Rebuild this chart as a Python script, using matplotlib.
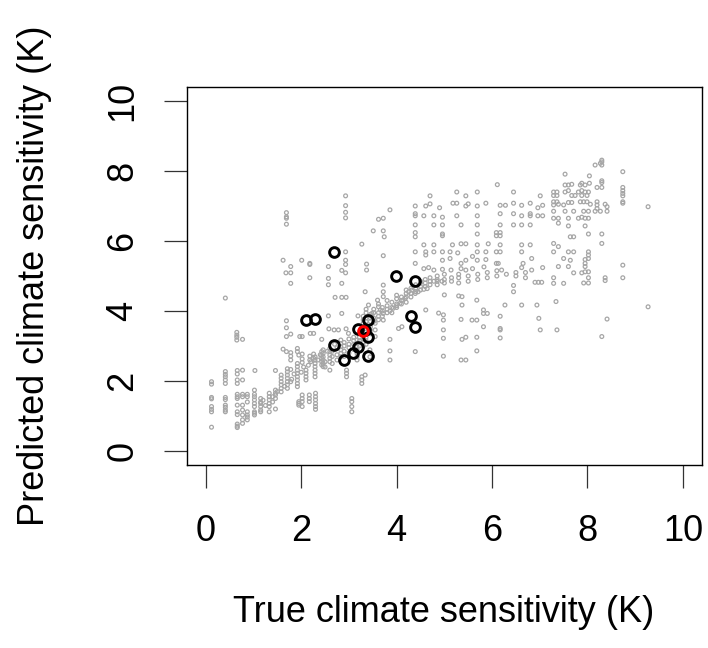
import matplotlib
matplotlib.use("Agg")
import matplotlib.pyplot as plt

plt.rcParams['font.family'] = ['Liberation Sans', 'DejaVu Sans']

# ---- data ----
# gray points: (true, predicted)
gray_low = [
    (0.12, 1.98), (0.12, 1.91), (0.12, 1.53), (0.12, 1.49), (0.12, 1.27), (0.12, 1.19), (0.12, 1.12), (0.12, 0.68),
    (0.41, 2.27), (0.41, 2.19), (0.41, 2.12), (0.41, 2.03), (0.41, 1.93), (0.41, 1.53), (0.41, 1.47), (0.41, 1.31),
    (0.41, 1.25), (0.41, 1.17), (0.41, 1.12), (0.41, 4.37),
    (0.66, 2.30), (0.66, 2.20), (0.66, 2.03), (0.66, 1.93), (0.66, 1.62), (0.66, 1.55), (0.66, 1.50), (0.66, 1.31),
    (0.66, 1.12), (0.66, 1.04), (0.66, 0.77), (0.66, 0.71), (0.66, 0.67),
    (0.65, 3.39), (0.65, 3.31), (0.65, 3.25), (0.65, 3.17), (0.77, 3.19),
    (0.77, 2.31), (0.77, 2.03), (0.77, 1.62), (0.77, 1.55), (0.77, 1.31), (0.77, 1.17), (0.77, 1.03), (0.77, 0.89), (0.77, 0.79),
    (0.87, 1.62), (0.87, 1.55), (0.87, 1.40), (0.87, 1.12), (0.87, 1.03), (0.87, 0.97), (0.87, 0.89),
    (1.02, 1.74), (1.02, 1.62), (1.02, 1.55), (1.02, 1.46), (1.02, 1.36), (1.02, 1.27), (1.02, 1.12), (1.02, 1.08), (1.02, 1.03), (1.03, 2.30),
    (1.15, 1.50), (1.15, 1.40), (1.15, 1.36), (1.15, 1.27), (1.15, 1.17), (1.15, 1.12),
    (1.33, 1.65), (1.33, 1.55), (1.33, 1.46), (1.33, 1.36), (1.33, 1.27), (1.33, 1.12),
    (1.46, 2.30), (1.46, 1.74), (1.46, 1.65), (1.46, 1.60), (1.46, 1.50), (1.46, 1.20),
    (1.58, 2.17), (1.58, 2.08), (1.58, 1.98), (1.58, 1.89), (1.58, 1.79), (1.58, 1.69),
    (1.71, 2.35), (1.71, 2.26), (1.71, 2.17), (1.71, 2.08), (1.71, 1.98), (1.71, 1.89), (1.71, 1.79),
    (1.78, 2.33), (1.78, 1.98),
    (1.92, 2.50), (1.92, 2.41), (1.92, 2.31), (1.92, 2.22), (1.92, 2.12), (1.92, 2.03), (1.92, 1.93), (1.92, 1.84),
    (2.02, 1.60), (2.02, 1.50), (2.02, 1.41), (2.02, 1.27), (1.95, 1.41), (1.95, 1.36), (1.95, 1.31),
    (2.10, 2.31), (2.10, 2.22), (2.10, 2.12), (2.10, 2.03), (2.17, 1.60), (2.17, 1.50), (2.17, 1.41),
    (2.29, 2.69), (2.29, 2.60), (2.29, 2.50), (2.29, 2.41), (2.29, 2.31), (2.29, 2.22), (2.29, 2.12),
    (2.30, 1.65), (2.30, 1.55), (2.30, 1.46), (2.30, 1.36), (2.30, 1.27), (2.30, 1.19),
    (2.46, 2.89), (2.46, 2.79), (2.46, 2.69), (2.46, 2.60), (2.46, 2.50), (2.46, 2.41),
    (2.60, 2.93), (2.60, 2.84), (2.60, 2.74), (2.60, 2.65), (2.60, 2.55), (2.60, 2.31),
    (2.83, 3.17), (2.83, 3.07), (2.83, 2.98), (2.83, 2.89), (2.83, 2.79), (2.83, 2.69),
    (2.95, 2.31), (2.95, 2.22), (2.95, 2.12),
    (3.06, 1.50), (3.06, 1.41), (3.06, 1.27), (3.06, 1.12),
    (3.17, 3.17), (3.17, 3.07), (3.17, 2.98), (3.17, 2.89), (3.17, 2.79), (3.17, 2.69), (3.17, 2.60),
    (3.27, 2.12), (3.27, 2.03), (3.27, 1.93),
]
gray_band = [
    (2.50, 2.40), (2.50, 2.55), (2.65, 2.50), (2.65, 2.70), (2.65, 2.85), (2.75, 2.60), (2.75, 2.75), (2.75, 2.95),
    (2.90, 2.70), (2.90, 2.85), (2.90, 3.00), (2.90, 3.10), (3.00, 2.80), (3.00, 2.95), (3.00, 3.05), (3.00, 3.20),
    (3.10, 2.90), (3.10, 3.05), (3.10, 3.15), (3.10, 3.25), (3.22, 3.00), (3.22, 3.15), (3.22, 3.25), (3.22, 3.35),
    (3.30, 3.00), (3.30, 3.10), (3.30, 3.20), (3.30, 3.30), (3.30, 3.55), (3.30, 3.65), (3.30, 3.75), (3.30, 3.85),
    (3.36, 3.05), (3.36, 3.15), (3.36, 3.25), (3.36, 3.40), (3.36, 3.60), (3.36, 3.70), (3.36, 3.80), (3.36, 3.95),
    (3.36, 4.05), (3.45, 3.35), (3.45, 3.45), (3.45, 3.55), (3.45, 3.70), (3.45, 3.80), (3.45, 3.90),
    (3.52, 3.70), (3.52, 3.80), (3.52, 3.95), (3.52, 4.05), (3.62, 3.75), (3.62, 3.85), (3.62, 3.95), (3.62, 4.20),
    (3.70, 3.85), (3.70, 4.00), (3.70, 4.10), (3.80, 3.95), (3.80, 4.05), (3.80, 4.15), (3.80, 4.30),
    (3.90, 3.95), (3.90, 4.10), (3.90, 4.25), (4.00, 4.10), (4.00, 4.20), (4.00, 4.35), (4.00, 4.45),
    (4.10, 4.20), (4.10, 4.30), (4.10, 4.40), (4.20, 4.25), (4.20, 4.40), (4.20, 4.50), (4.20, 4.60),
    (4.30, 4.40), (4.30, 4.50), (4.30, 4.65), (4.40, 4.55), (4.40, 4.65), (4.40, 4.75),
    (4.50, 4.60), (4.50, 4.70), (4.50, 4.80), (4.60, 4.70), (4.60, 4.80), (4.60, 4.90),
    (4.70, 4.75), (4.70, 4.85), (4.70, 4.95), (4.85, 4.75), (4.85, 4.90), (4.85, 5.00),
    (5.00, 4.80), (5.00, 4.90), (5.00, 5.05), (5.15, 4.85), (5.15, 4.95), (5.30, 4.80), (5.30, 4.95), (5.30, 5.05),
    (5.50, 4.85), (5.50, 5.00), (5.70, 4.90), (5.70, 5.05), (5.90, 4.95), (5.90, 5.10), (6.10, 5.00), (6.10, 5.15),
    (6.30, 5.05), (6.50, 5.00), (6.50, 5.10), (6.70, 4.95), (6.70, 5.10),
    (1.20, 1.45), (1.25, 1.30), (1.40, 1.55), (1.40, 1.40), (1.50, 1.70), (1.65, 1.85), (1.80, 2.05), (1.85, 2.20),
    (2.00, 2.25), (2.05, 2.40), (2.15, 2.45), (2.20, 2.55), (2.35, 2.60), (2.40, 2.75), (2.55, 2.85), (2.70, 3.05),
]
gray_mid = [
    (1.69, 6.81), (1.69, 6.69), (1.69, 6.65), (1.69, 6.48),
    (2.93, 7.29), (2.93, 7.01), (2.93, 6.82), (2.93, 6.66),
    (3.27, 5.91), (2.93, 5.69), (1.62, 5.45), (2.01, 5.45), (2.18, 5.36), (2.18, 5.33), (1.78, 5.27), (2.57, 5.27),
    (2.93, 5.45), (2.93, 5.33), (1.68, 5.09), (1.78, 5.09), (2.85, 5.16), (2.93, 5.09), (2.18, 4.95), (2.57, 4.93),
    (1.78, 4.79), (2.57, 4.75), (2.85, 4.79), (2.71, 4.39), (2.85, 4.39), (2.94, 4.39), (2.85, 3.93), (2.57, 3.86),
    (3.19, 3.86), (1.69, 3.72), (1.69, 3.52), (1.78, 3.34), (1.97, 3.27), (2.02, 3.27), (2.19, 3.36), (2.26, 3.36),
    (1.69, 3.27), (2.58, 3.49), (2.69, 3.46), (2.78, 3.46), (2.94, 3.49), (2.99, 3.36), (2.43, 3.19),
    (1.62, 2.91), (1.69, 2.84), (1.78, 2.81), (1.78, 2.71), (1.78, 2.60), (1.92, 2.93), (1.92, 2.84), (1.95, 2.74),
    (2.02, 2.77), (2.02, 2.63), (2.02, 2.53), (2.18, 2.71), (2.18, 2.60), (2.26, 2.77), (2.26, 2.65),
    (2.43, 2.84), (2.43, 2.74), (2.43, 2.65), (2.43, 2.55), (2.43, 2.46),
    (3.34, 4.55), (3.41, 4.17), (3.48, 3.93), (3.48, 3.84), (3.55, 3.65), (3.55, 3.46), (3.55, 3.27),
    (3.44, 2.89), (3.44, 2.69), (3.34, 2.17), (3.60, 4.31), (3.62, 4.12), (3.66, 4.03), (3.72, 3.93), (3.72, 3.74),
    (3.72, 4.74), (3.72, 4.55), (3.72, 4.41), (3.86, 4.00), (3.93, 4.08), (4.00, 4.15), (4.07, 4.22), (4.13, 4.31),
    (3.86, 3.19), (3.86, 2.86), (3.86, 2.60), (4.04, 3.50), (4.11, 3.55),
    (4.18, 4.36), (4.25, 4.55), (4.32, 4.60), (4.39, 4.50), (4.45, 4.55), (4.39, 2.84),
    (4.50, 4.85), (4.57, 4.62), (4.64, 4.64), (4.78, 4.85), (4.85, 4.85), (4.95, 4.85),
    (4.61, 4.03), (4.88, 3.94), (4.98, 3.89), (4.98, 3.74), (4.98, 3.46), (4.98, 3.22), (4.98, 2.71), (5.00, 4.46),
]
gray_high = [
    (5.30, 4.43), (5.37, 4.41), (5.37, 4.17), (5.35, 3.76), (5.37, 3.19), (5.35, 2.60), (5.45, 2.60), (5.45, 3.25),
    (5.58, 3.74), (5.68, 3.74), (5.68, 4.31), (5.68, 3.25), (5.68, 2.86), (5.82, 4.03), (5.82, 3.93), (5.90, 3.93),
    (5.82, 3.55), (6.17, 3.85), (6.17, 3.50), (6.17, 3.46), (6.17, 3.23), (6.27, 4.17), (6.45, 4.73), (6.45, 4.55),
    (6.62, 4.17), (6.94, 4.17), (6.98, 3.79), (7.01, 3.46), (6.90, 4.82), (6.97, 4.82), (7.04, 4.82),
    (7.29, 4.79), (7.50, 4.79), (7.92, 4.80), (8.02, 4.80), (8.37, 4.87), (7.34, 4.27), (9.27, 4.12), (8.41, 3.77),
    (7.36, 3.46), (8.30, 3.27),
    (8.30, 8.31), (8.30, 8.26), (8.27, 8.22), (8.16, 8.17), (8.30, 8.17), (8.74, 7.98), (7.53, 7.91), (8.04, 7.86),
    (8.30, 7.72), (8.30, 7.67), (7.53, 7.60), (7.60, 7.60), (7.67, 7.62), (7.85, 7.60), (7.88, 7.65), (7.95, 7.60),
    (8.04, 7.65), (8.20, 7.53), (8.30, 7.53), (8.74, 7.53), (8.74, 7.44), (8.74, 7.36), (8.74, 7.29), (8.74, 7.12),
    (8.74, 7.08), (7.29, 7.40), (7.36, 7.40), (7.29, 7.30), (7.36, 7.30), (7.53, 7.40), (7.60, 7.44), (7.67, 7.30),
    (7.74, 7.30), (7.81, 7.40), (7.88, 7.44), (7.95, 7.40), (8.02, 7.40), (7.88, 7.30), (7.99, 7.30),
    (7.29, 7.12), (7.36, 7.12), (7.39, 7.05), (7.29, 7.03), (7.50, 7.03), (7.60, 7.10), (7.67, 7.10),
    (7.85, 7.12), (7.92, 7.12), (7.99, 7.12), (8.06, 7.05), (8.20, 7.12), (8.20, 7.03), (8.20, 6.93), (8.37, 7.05),
    (8.41, 6.98), (8.16, 6.85), (8.27, 6.85), (8.41, 6.85), (9.27, 6.98),
    (7.29, 6.85), (7.53, 6.85), (7.71, 6.85), (7.92, 6.85), (8.02, 6.85),
    (7.29, 6.65), (7.39, 6.65), (7.39, 6.51), (7.60, 6.65), (7.81, 6.65), (7.88, 6.68), (7.95, 6.65), (8.02, 6.65),
    (7.60, 6.43), (7.95, 6.43), (7.64, 6.12), (7.71, 6.12), (8.02, 6.20), (8.30, 6.20),
    (7.29, 5.93), (7.39, 5.84), (8.30, 5.93), (7.29, 5.69), (7.60, 5.69), (7.71, 5.69), (8.02, 5.69), (8.02, 5.60),
    (8.02, 5.50), (7.50, 5.50), (7.64, 5.45), (7.95, 5.47), (7.95, 5.36), (7.95, 5.27), (7.39, 5.27), (7.60, 5.27),
    (8.74, 5.31), (7.71, 5.09), (7.88, 5.09), (7.95, 5.12), (8.02, 5.12), (7.29, 4.95), (8.02, 4.95), (8.37, 4.95),
    (8.74, 4.95),
    (6.11, 7.61), (5.26, 7.40), (5.69, 7.40), (6.45, 7.40), (4.70, 7.29), (5.45, 7.29), (7.01, 7.29),
    (5.18, 7.08), (5.26, 7.08), (5.45, 7.00), (5.50, 7.06), (4.70, 7.06), (4.61, 7.00), (4.39, 7.00),
    (4.90, 6.95), (5.69, 7.00), (5.87, 7.08), (6.17, 7.02), (6.28, 7.02), (6.45, 7.08), (6.62, 7.02), (6.80, 7.08),
    (6.96, 6.95), (7.06, 7.02),
    (3.86, 6.89), (3.62, 6.62), (3.72, 6.65), (3.51, 6.29), (3.72, 6.29), (3.74, 6.12),
    (4.39, 6.78), (4.39, 6.72), (4.57, 6.72), (4.78, 6.72), (4.96, 6.68), (5.26, 6.72), (5.69, 6.72), (6.17, 6.78),
    (6.45, 6.78), (6.62, 6.72), (6.80, 6.78), (6.80, 6.72), (6.96, 6.72), (7.06, 6.72),
    (4.39, 6.46), (4.78, 6.46), (4.96, 6.46), (5.35, 6.46), (5.69, 6.46), (6.17, 6.46), (6.45, 6.46), (6.62, 6.46),
    (6.80, 6.46),
    (4.39, 6.24), (4.39, 6.12), (4.96, 6.20), (4.96, 6.15), (5.69, 6.20), (6.09, 6.24), (6.17, 6.24), (6.09, 6.15),
    (6.17, 6.15), (3.72, 5.58),
    (4.57, 5.89), (4.78, 5.89), (5.17, 5.89), (5.35, 5.92), (5.45, 5.92), (5.69, 5.89), (5.92, 5.92), (6.17, 5.89),
    (6.62, 5.89), (6.80, 5.89),
    (4.39, 5.69), (4.61, 5.69), (4.61, 5.60), (4.78, 5.69), (4.96, 5.69), (5.12, 5.69), (5.28, 5.66), (5.69, 5.69),
    (5.87, 5.69), (6.09, 5.69), (6.17, 5.69), (6.62, 5.69),
    (4.39, 5.36), (4.96, 5.45), (5.12, 5.50), (5.35, 5.36), (5.45, 5.45), (5.59, 5.56), (5.69, 5.45), (5.87, 5.47),
    (6.09, 5.36), (6.65, 5.36), (6.83, 5.50),
    (4.57, 5.21), (4.67, 5.24), (4.78, 5.17), (4.96, 5.19), (5.14, 5.17), (5.35, 5.21), (5.45, 5.17), (5.59, 5.21),
    (5.83, 5.26), (6.13, 5.36), (6.20, 5.17), (6.62, 5.24), (6.83, 5.17), (7.06, 5.24),
    (3.37, 5.34), (3.37, 5.17),
]

# highlighted models (black open circles) and the observation (red)
black_x = [2.69, 3.99, 4.39, 2.09, 2.29, 3.39, 4.30, 4.39, 3.20, 3.41, 2.69, 3.20, 3.09, 3.39, 2.90, 3.33]
black_y = [5.68, 4.99, 4.87, 3.74, 3.77, 3.74, 3.87, 3.55, 3.49, 3.27, 3.04, 2.96, 2.81, 2.71, 2.61, 3.47]
red_x = [3.30]
red_y = [3.44]

x_ticks = [0, 2, 4, 6, 8, 10]
y_ticks = [0, 2, 4, 6, 8, 10]
x_label = "True climate sensitivity (K)"
y_label = "Predicted climate sensitivity (K)"

# ---- figure ----
W, H = 708, 648
fig = plt.figure(figsize=(W / 100, H / 100), dpi=100)
left, right, top, bottom = 186.7, 702, 87, 465
ax = fig.add_axes([left / W, 1 - bottom / H, (right - left) / W, (bottom - top) / H])

gray_all = gray_low + gray_band + gray_mid + gray_high
gx = [p[0] for p in gray_all]
gy = [p[1] for p in gray_all]
ax.scatter(gx, gy, s=7.5, facecolors='none', edgecolors='#a6a6a6', linewidths=0.9, zorder=2)
ax.plot(black_x, black_y, 'o', ms=7.0, mfc='none', mec='black', mew=2.1, zorder=3)
ax.plot(red_x, red_y, 'o', ms=7.0, mfc='none', mec='#ff0000', mew=2.1, zorder=4)

ax.set_xlim(-0.4, 10.4)
ax.set_ylim(-0.4, 10.4)
ax.set_xticks(x_ticks)
ax.set_yticks(y_ticks)
ax.set_xticklabels([str(t) for t in x_ticks])
ax.set_yticklabels([str(t) for t in y_ticks])
for s in ax.spines.values():
    s.set_linewidth(1.0)
    s.set_color('black')
ax.tick_params(axis='both', direction='out', length=16.5, width=0.9, color='#333333',
               labelsize=26, pad=19)
ax.tick_params(axis='y', labelrotation=90, pad=17)
for lab in ax.get_yticklabels():
    lab.set_va('center')

fig.text(444 / W, 1 - 613 / H, x_label, ha='center', va='center', fontsize=26)
fig.text(35 / W, 1 - 276 / H, y_label, ha='center', va='center', fontsize=26, rotation=90)

fig.savefig('out.png', dpi=100)
